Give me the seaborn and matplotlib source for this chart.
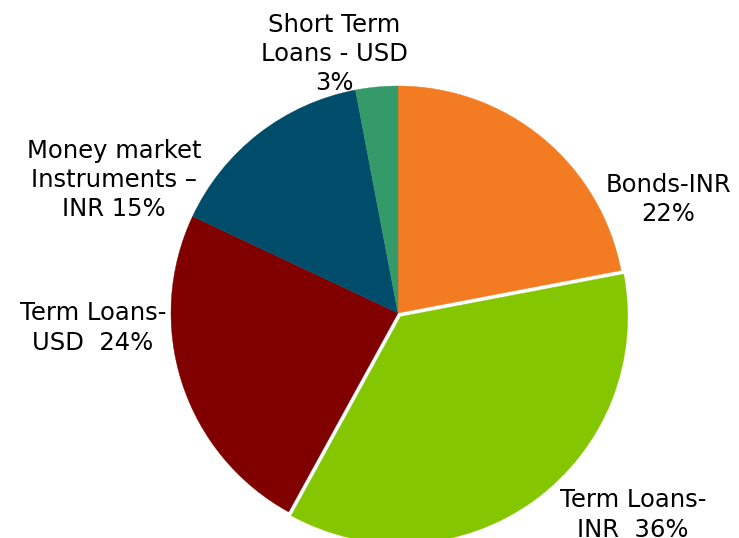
import matplotlib
matplotlib.use("Agg")
import matplotlib.pyplot as plt
import seaborn as sns

# Funding mix shares (%), clockwise from 12 o'clock
labels = ["Bonds-INR\n22%", "Term Loans-\nINR  36%", "Term Loans-\nUSD  24%",
          "Money market\nInstruments \u2013\nINR 15%", "Short Term\nLoans - USD\n3%"]
shares = [22, 36, 24, 15, 3]
colors = ["#F37B21", "#84C600", "#800000", "#004D6B", "#359A6A"]
explode = [0, 0.02, 0, 0, 0]

# label anchor points in pie units (radius = 1)
label_xy = [(1.19, 0.50), (1.035, -0.89), (-1.344, -0.066), (-1.251, 0.586), (-0.282, 1.141)]

sns.set_style("white")
plt.rcParams['font.family'] = ['DejaVu Sans']

fig = plt.figure(figsize=(7.39, 5.38), dpi=100)
cx, cy, r = 398, 313, 227
ax = fig.add_axes([(cx - r) / 739, (538 - cy - r) / 538, 2 * r / 739, 2 * r / 538])

wedges, _ = ax.pie(shares, colors=sns.color_palette(colors), startangle=90, counterclock=False,
                   explode=explode, radius=1, wedgeprops=dict(linewidth=0.3))
for w in wedges:
    w.set_edgecolor(w.get_facecolor())
ax.set_xlim(-1, 1)
ax.set_ylim(-1, 1)
ax.set_aspect("equal")
ax.axis("off")

for text, (x, y) in zip(labels, label_xy):
    ax.text(x, y, text, ha="center", va="center", fontsize=17.5, color="black",
            linespacing=1.28, clip_on=False)

fig.savefig("out.png", dpi=100)
